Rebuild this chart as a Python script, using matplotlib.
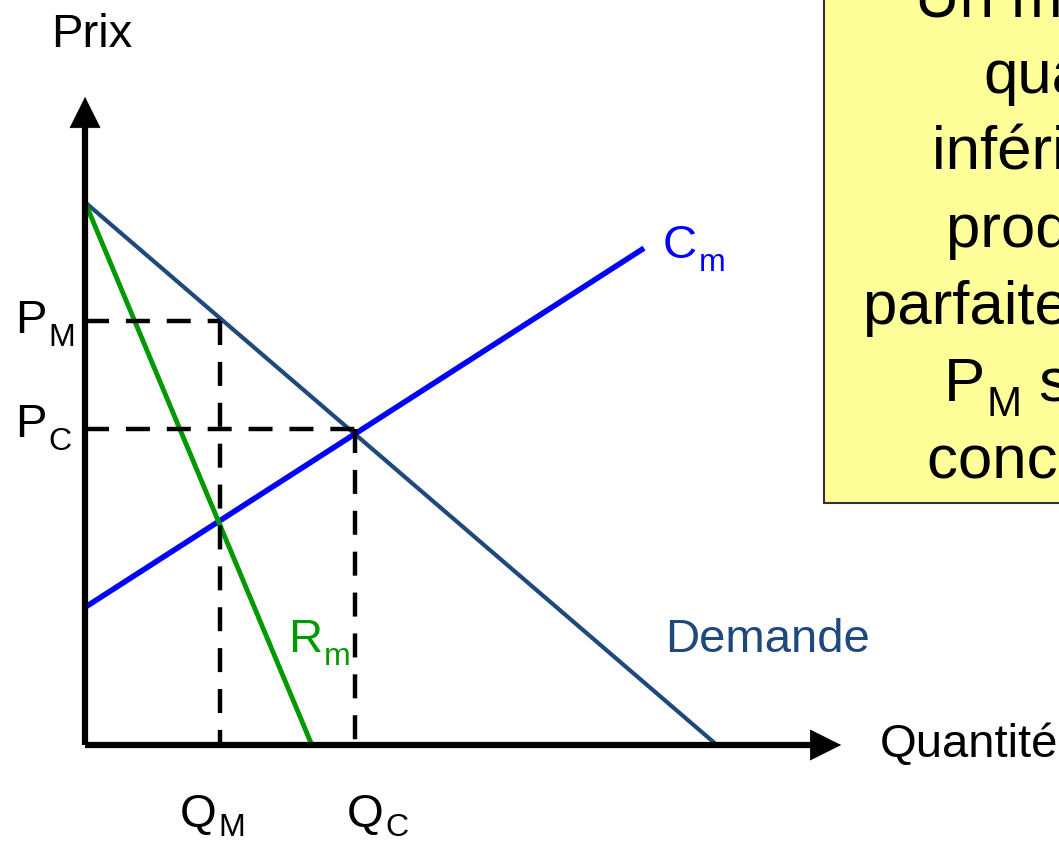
import numpy as np
import matplotlib
matplotlib.use('Agg')
import matplotlib.pyplot as plt
from matplotlib.patches import Rectangle

plt.rcParams['font.family'] = ['Liberation Sans', 'DejaVu Sans']

# curves (arbitrary units, quantity on x, price on y)
demand_q = [0, 23.4]
demand_p = [20.1, 0]
mr_q = [0, 8.4]
mr_p = [20.1, 0]
mc_q = [0, 20.7]
mc_p = [5.1, 18.4]

# monopoly / competition equilibria
q_m, p_m = 5.0, 15.7
q_c, p_c = 10.0, 11.7

# axis extents
x_tip = 28.0
y_tip = 24.0

# note box text: (main, subscript, rest) per line
box_lines = [
    ('Un monopole produit une', '', ''),
    ('quantité', '', ''),
    ('inférieure à celle', '', ''),
    ('produite en concurrence', '', ''),
    ('parfaite, à un prix', '', ''),
    ('P', 'M', ' supérieur au prix de'),
    ('concurrence P', 'C', '.'),
]
# left edge and baseline of each line in the box
box_x = [30.74, 33.26, 31.37, 31.89, 28.81, 31.81, 31.19]
box_y = [26.96, 24.15, 21.30, 18.44, 15.59, 12.74, 9.89]

navy = '#1F497D'
green = '#009900'
blue = '#0000FF'

fig = plt.figure(figsize=(10.59, 8.46), dpi=100)
ax = fig.add_axes([0, 0, 1, 1])
ax.set_xlim(-3.15, 36.07)
ax.set_ylim(-3.74, 27.59)
ax.axis('off')


def sub_label(x, y, main, sub, rest='', size=34, color='k', drop=9.5, z=9):
    # text with a lowered subscript, like a slide label
    t = ax.text(x, y, main, fontsize=size, color=color, ha='left', va='baseline', zorder=z)
    if sub:
        s = ax.annotate(sub, xy=(1, y), xycoords=(t, 'data'), xytext=(1, -drop),
                        textcoords='offset points', fontsize=size * 0.68, color=color,
                        ha='left', va='baseline', zorder=z)
        if rest:
            ax.annotate(rest, xy=(1, y), xycoords=(s, 'data'), xytext=(0, 0),
                        textcoords='offset points', fontsize=size, color=color,
                        ha='left', va='baseline', zorder=z)
    return t


# curves
ax.plot(demand_q, demand_p, color=navy, lw=3.0, solid_capstyle='butt', zorder=3)
ax.plot(mc_q, mc_p, color=blue, lw=4.0, solid_capstyle='butt', zorder=3)
ax.plot(mr_q, mr_p, color=green, lw=3.5, solid_capstyle='butt', zorder=4)

# dashed guides
dash = (0, (5.4, 3.8))
for q, p in [(q_m, p_m), (q_c, p_c)]:
    ax.plot([0, q], [p, p], color='k', lw=3.2, ls=dash, dash_capstyle='butt', zorder=5)
    ax.plot([q, q], [p, 0], color='k', lw=3.2, ls=dash, dash_capstyle='butt', zorder=5)

# axes with arrow heads
ax.plot([0, 0], [0, y_tip - 1.0], color='k', lw=4.5, solid_capstyle='butt', zorder=6)
ax.plot([0, x_tip - 1.0], [0, 0], color='k', lw=4.5, solid_capstyle='butt', zorder=6)
head = dict(arrowstyle='-|>,head_length=0.6,head_width=0.3', lw=0.5, color='k',
            mutation_scale=36, shrinkA=0, shrinkB=0)
ax.annotate('', xy=(0, y_tip), xytext=(0, y_tip - 1.5), arrowprops=head, zorder=6)
ax.annotate('', xy=(x_tip, 0), xytext=(x_tip - 1.5, 0), arrowprops=head, zorder=6)

# labels
fs = 34
ax.text(0.26, 25.85, 'Prix', fontsize=fs, ha='center', va='baseline')
ax.text(29.44, -0.44, 'Quantité', fontsize=fs, ha='left', va='baseline')
sub_label(-2.59, p_m - 0.44, 'P', 'M')
sub_label(-2.59, p_c - 0.29, 'P', 'C')
sub_label(q_m - 1.48, -3.05, 'Q', 'M', drop=6.5)
sub_label(q_c - 0.30, -3.05, 'Q', 'C', drop=6.5)
sub_label(7.52, 3.44, 'R', 'm', color=green)
sub_label(21.4, 18.04, 'C', 'm', color=blue)
ax.text(21.48, 3.44, 'Demande', fontsize=fs, color=navy, ha='left', va='baseline')

# yellow note box (runs off the right/top edge)
ax.add_patch(Rectangle((27.37, 8.96), 20, 30, facecolor='#FFFF99',
                       edgecolor='#333333', lw=1.5, zorder=7))
for (main, sub, rest), x, y in zip(box_lines, box_x, box_y):
    sub_label(x, y, main, sub, rest, size=44.5, drop=10.5, z=8)

fig.savefig('out.png', dpi=100)
